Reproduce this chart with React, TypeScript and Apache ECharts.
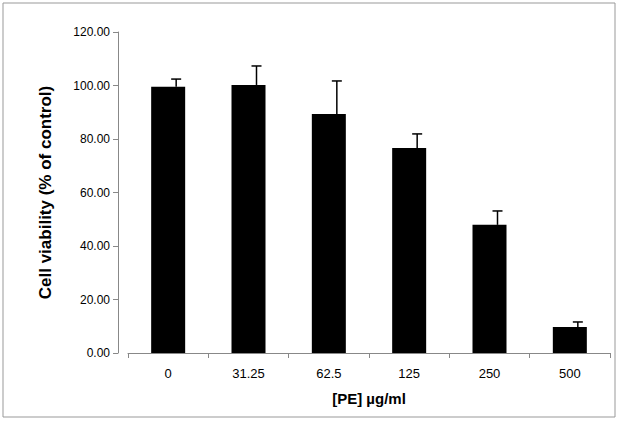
import React, { useEffect, useRef } from 'react';
import * as echarts from 'echarts';

const doses = ['0', '31.25', '62.5', '125', '250', '500'];
const viability = [99.5, 100.2, 89.3, 76.6, 47.9, 9.7];
const errorTop = [102.4, 107.3, 101.7, 81.9, 53.1, 11.6];

const App: React.FC = () => {
  const chartRef = useRef<HTMLDivElement>(null);

  useEffect(() => {
    if (!chartRef.current) return;
    const chart = echarts.init(chartRef.current, null, { renderer: 'svg' });

    const option: echarts.EChartsOption = {
      animation: false,
      backgroundColor: '#fff',
      textStyle: { fontFamily: 'Arial, Liberation Sans, sans-serif' },
      grid: { left: 128, right: 9, top: 32, bottom: 69 },
      graphic: [
        {
          type: 'rect',
          shape: { x: 3, y: 3, width: 612, height: 414 },
          style: { fill: 'none', stroke: '#999', lineWidth: 1 }
        }
      ],
      xAxis: {
        type: 'category',
        data: doses,
        name: '[PE] µg/ml',
        nameLocation: 'middle',
        nameGap: 38,
        nameTextStyle: { fontSize: 15, fontWeight: 'bold', color: '#000' },
        axisLine: { lineStyle: { color: '#888' } },
        axisTick: { show: true, alignWithLabel: false, lineStyle: { color: '#888' } },
        axisLabel: { color: '#000', fontSize: 13, margin: 14 }
      },
      yAxis: {
        type: 'value',
        min: 0,
        max: 120,
        interval: 20,
        offset: 10,
        name: 'Cell viability (% of control)',
        nameLocation: 'middle',
        nameGap: 64,
        nameTextStyle: { fontSize: 17, fontWeight: 'bold', color: '#000' },
        axisLine: { show: true, lineStyle: { color: '#888' } },
        axisTick: { show: true, lineStyle: { color: '#888' } },
        splitLine: { show: false },
        axisLabel: { color: '#000', fontSize: 12, formatter: (v: number) => v.toFixed(2) }
      },
      series: [
        {
          type: 'bar',
          data: viability,
          barWidth: 34,
          itemStyle: { color: '#000' }
        },
        {
          type: 'custom',
          data: errorTop.map((t, i) => [i, viability[i], t]),
          z: 5,
          renderItem: (params: any, api: any) => {
            const base = api.coord([api.value(0), api.value(1)]);
            const top = api.coord([api.value(0), api.value(2)]);
            const style = { stroke: '#000', lineWidth: 1.5 };
            return {
              type: 'group',
              children: [
                { type: 'line', shape: { x1: base[0] + 8, y1: base[1], x2: top[0] + 8, y2: top[1] }, style },
                { type: 'line', shape: { x1: top[0] + 3, y1: top[1], x2: top[0] + 13, y2: top[1] }, style }
              ]
            };
          }
        }
      ]
    };

    chart.setOption(option);
    return () => chart.dispose();
  }, []);

  return (
    <div
      ref={chartRef}
      style={{ position: 'absolute', left: 0, top: 0, width: 619, height: 422 }}
    />
  );
};

export default App;
